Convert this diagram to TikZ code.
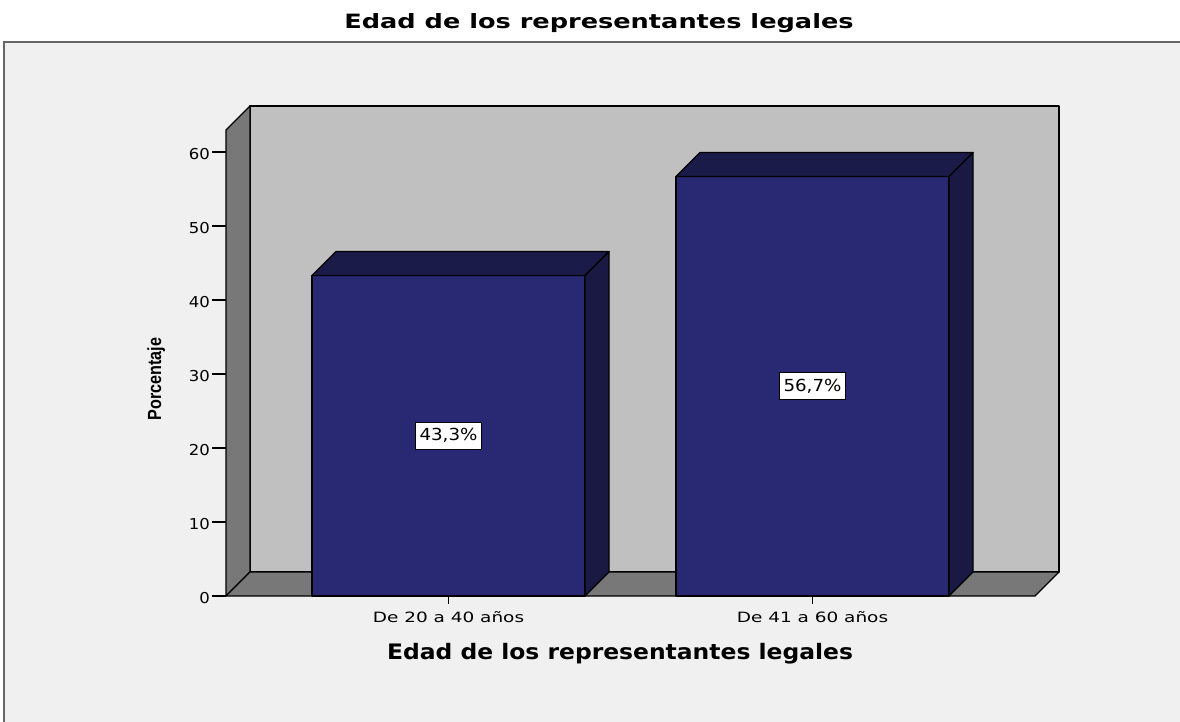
\documentclass[tikz,border=0pt]{standalone}
\usepackage{fontspec}
\setmainfont{DejaVu Sans}
\newfontfamily\widea[FakeStretch=1.3]{DejaVu Sans}
\newfontfamily\wideb[FakeStretch=1.1]{DejaVu Sans}
\newfontfamily\narrowb[FakeStretch=0.85]{Liberation Sans}
\usetikzlibrary{positioning}
\definecolor{bgpanel}{RGB}{240,240,240}
\definecolor{wallback}{RGB}{192,192,192}
\definecolor{wallside}{RGB}{120,120,120}
\definecolor{barfront}{RGB}{40,41,114}
\definecolor{bartop}{RGB}{27,27,74}
\definecolor{barside}{RGB}{25,25,68}

\begin{document}
\begin{tikzpicture}[
    x=1pt, y=-1pt,
    frame/.style={fill=bgpanel, draw=black!60, line width=1.5pt},
    w/.style={draw=black, line width=1.3pt, line join=round},
    tk/.style={draw=black, line width=1.3pt},
    ticklab/.style={font=\wideb\fontsize{15}{15}\selectfont, inner sep=0pt},
    catlab/.style={font=\widea\fontsize{14.2}{14.2}\selectfont, inner sep=0pt},
    pct/.style={font=\wideb\fontsize{16.6}{16.6}\selectfont, fill=white, draw=black,
        line width=1.2pt, inner xsep=4pt, minimum height=27pt},
    axtitle/.style={font=\wideb\bfseries\fontsize{21.3}{21.3}\selectfont, inner sep=0pt}
]
\useasboundingbox (0,0) rectangle (1180,722);
\fill[white] (0,0) rectangle (1180,722);
\draw[frame] (4,42) rectangle (1200,740);

% walls and floor
\draw[w, fill=wallback] (250,106) rectangle (1059,572);
\draw[w, fill=wallside] (226,596) -- (226,130) -- (250,106) -- (250,572) -- cycle;
\draw[w, fill=wallside] (226,596) -- (250,572) -- (1059,572) -- (1035,596) -- cycle;

% y axis
\foreach \v in {0,10,...,60} {
    \draw[tk] (212,{596-7.4*\v}) -- (226,{596-7.4*\v});
    \node[ticklab, anchor=east] (tick\v) at (210,{596-7.4*\v+2}) {\v};
}

% bars
\foreach \x/\v/\val/\nm/\cat in {312/43.3/{43,3\%}/bA/{De 20 a 40 años},
                                 676/56.7/{56,7\%}/bB/{De 41 a 60 años}} {
    \pgfmathsetmacro\yt{596-7.4*\v}
    \draw[w, fill=barfront] (\x,596) rectangle ({\x+273},\yt);
    \draw[w, fill=bartop] (\x,\yt) -- ({\x+24},{\yt-24}) -- ({\x+297},{\yt-24}) -- ({\x+273},\yt) -- cycle;
    \draw[w, fill=barside] ({\x+273},596) -- ({\x+273},\yt) -- ({\x+297},{\yt-24}) -- ({\x+297},572) -- cycle;
    \node[pct] (\nm-val) at ({\x+136.5},{(596+\yt)/2}) {\val};
    \draw[tk] ({\x+136.5},596) -- ({\x+136.5},604);
    \node[catlab, anchor=base] (\nm-cat) at ({\x+136.5},622) {\cat};
}

\node[font=\widea\bfseries\fontsize{19.7}{19.7}\selectfont, inner sep=0pt, anchor=base] (title) at (599,29) {Edad de los representantes legales};
\node[axtitle, anchor=base] (xtitle) at (620,659) {Edad de los representantes legales};
\node[font=\narrowb\bfseries\fontsize{19}{19}\selectfont, inner sep=0pt, rotate=90, anchor=base] (ytitle) at (161,379) {Porcentaje};

\end{tikzpicture}
\end{document}
